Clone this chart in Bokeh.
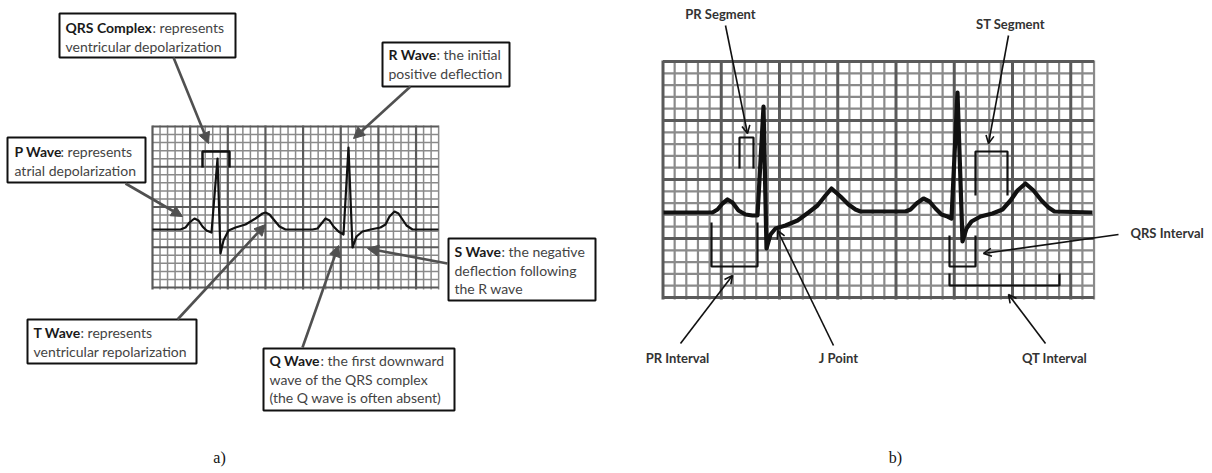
from bokeh.plotting import figure
from bokeh.models import Range1d, Arrow, NormalHead, OpenHead
from bokeh.core.properties import value
from bokeh.embed import file_html
from bokeh.resources import INLINE

# ---------------- data (page pixel coordinates) ----------------
# Panel a) ECG trace
wave_a_x = [152, 180, 185, 189, 194, 198, 202, 206, 211, 217, 220, 223, 228, 235, 245, 255, 262, 265,
            269, 274, 279, 285, 312, 317, 321, 325, 329, 333, 338, 343, 348, 352, 356, 362, 370, 380,
            385, 389, 394, 398, 402, 406, 412, 438]
wave_a_y = [229, 229, 227, 222, 218, 220, 226, 230, 232, 158, 253, 240, 230, 227, 224, 218, 213, 212,
            214, 220, 226, 229, 229, 228, 223, 218, 220, 226, 231, 234, 147, 247, 236, 231, 229, 227,
            224, 216, 211, 213, 219, 225, 229, 229]

# Panel b) ECG trace
wave_b_x = [663, 712, 717, 722, 727, 732, 738, 745, 752, 757, 763, 766, 770, 775, 785, 797, 808, 817,
            825, 831, 840, 848, 855, 860, 905, 910, 916, 923, 929, 935, 941, 947, 951, 957, 962, 966,
            971, 980, 992, 1002, 1010, 1017, 1025, 1033, 1041, 1048, 1054, 1092]
wave_b_y = [212, 212, 209, 203, 199, 202, 210, 214, 215, 215, 106, 248, 234, 228, 225, 220, 212, 205,
            195, 188, 196, 204, 209, 211, 211, 209, 203, 198, 201, 208, 214, 216, 218, 92, 241, 228,
            221, 216, 213, 209, 200, 190, 183, 190, 200, 207, 211, 212]

# Panel a) callouts
a_bold = ["QRS Complex", "P Wave", "R Wave", "T Wave", "S Wave", "Q Wave"]
a_first = [": represents", ": represents", ": the initial", ": represents", ": the negative",
           ": the first downward"]
a_more = [["ventricular depolarization"], ["atrial depolarization"], ["positive deflection"],
          ["ventricular repolarization"], ["deflection following", "the R wave"],
          ["wave of the QRS complex", "(the Q wave is often absent)"]]

# Panel b) labels
b_labels = ["PR Segment", "ST Segment", "QRS Interval", "PR Interval", "J Point", "QT Interval"]
panel_tags = ["a)", "b)"]

# ---------------- layout ----------------
box_left = [59, 7, 382, 27, 448, 263]
box_right = [235, 145, 509, 196, 595, 454]
box_top = [13, 137, 42, 319, 238, 348]
box_bottom = [57, 182, 86, 363, 300, 410]
text_x = [65, 14, 388, 33, 454, 269]
colon_x = [152, 60, 436, 80, 501, 320]
line1_y = [27, 151, 54, 332, 251, 360]
line_gap = 18.5

a_arrows = [(173, 57, 208, 143), (125, 183, 182, 216), (410, 86, 353, 138),
            (177, 319, 265, 224), (447, 263, 367, 248), (302, 347, 338, 245)]
b_arrows = [(725, 25, 747, 133), (1008, 35, 988, 143), (1118, 234, 983, 253),
            (680, 343, 732, 275), (833, 345, 777, 230), (1045, 343, 1008, 294)]
b_label_pos = [(720, 13, "center"), (1010, 23, "center"), (1130, 232, "left"),
               (677, 357, "center"), (838, 357, "center"), (1054, 357, "center")]

FONT = value("Lato")

p = figure(width=1212, height=473, x_range=Range1d(0, 1212), y_range=Range1d(473, 0),
           output_backend="svg", toolbar_location=None, min_border=0,
           x_axis_location=None, y_axis_location=None)
p.grid.visible = False
p.outline_line_color = None
p.background_fill_color = "white"
p.border_fill_color = "white"


def draw_grid(x0, nx, dx, y0, ny, dy, thin_w, thick_w, thin_c, thick_c):
    xs = [x0 + i * dx for i in range(nx + 1)]
    ys = [y0 + j * dy for j in range(ny + 1)]
    xa, xb, ya, yb = xs[0], xs[-1], ys[0], ys[-1]
    for thick in (False, True):
        vx = [x for i, x in enumerate(xs) if (i % 5 == 0) == thick]
        hy = [y for j, y in enumerate(ys) if (j % 5 == 0) == thick]
        w = thick_w if thick else thin_w
        c = thick_c if thick else thin_c
        p.segment(x0=vx, y0=[ya - 1] * len(vx), x1=vx, y1=[yb + 2] * len(vx), line_color=c, line_width=w)
        p.segment(x0=[xa] * len(hy), y0=hy, x1=[xb] * len(hy), y1=hy, line_color=c, line_width=w)


draw_grid(152, 38, 7.53, 126, 20, 8.05, 1.5, 2.2, "#8a8a8a", "#5a5a5a")
draw_grid(662.5, 37, 11.65, 61, 20, 11.8, 2.2, 3.0, "#8a8a8a", "#5a5a5a")

# ECG traces
p.line(wave_a_x, wave_a_y, line_color="#111111", line_width=2.2, line_join="round")
p.line(wave_b_x, wave_b_y, line_color="#111111", line_width=4.2, line_join="round")

# brackets
brackets_a = [([202, 202, 229, 229], [167, 151, 151, 167])]
brackets_b = [([739, 739, 753, 753], [168, 137, 137, 168]),
              ([975, 975, 1007, 1007], [195, 151, 151, 195]),
              ([711, 711, 757, 757], [222, 266, 266, 222]),
              ([949, 949, 975, 975], [235, 266, 266, 235]),
              ([949, 949, 1059, 1059], [273, 285, 285, 273])]
p.multi_line([b[0] for b in brackets_a], [b[1] for b in brackets_a], line_color="#111111", line_width=2.5)
p.multi_line([b[0] for b in brackets_b], [b[1] for b in brackets_b], line_color="#111111", line_width=2.2)

# arrows
for (xs, ys, xe, ye) in a_arrows:
    p.add_layout(Arrow(end=NormalHead(size=11, fill_color="#505050", line_color="#505050"),
                       x_start=xs, y_start=ys, x_end=xe, y_end=ye,
                       line_color="#505050", line_width=2.6))
for (xs, ys, xe, ye) in b_arrows:
    p.add_layout(Arrow(end=OpenHead(size=8, line_color="#111111", line_width=1.6),
                       x_start=xs, y_start=ys, x_end=xe, y_end=ye,
                       line_color="#111111", line_width=1.6))

# boxes
p.quad(left=box_left, right=box_right, top=box_top, bottom=box_bottom,
       fill_color="white", line_color="#111111", line_width=2)

# box texts
p.text(x=text_x, y=line1_y, text=a_bold, text_font=FONT, text_font_size="14px",
       text_font_style="bold", text_color="#1a1a1a", text_baseline="middle", text_align="left")
p.text(x=colon_x, y=line1_y, text=a_first, text_font=FONT, text_font_size="14px",
       text_color="#444444", text_baseline="middle", text_align="left")
mx, my, mt = [], [], []
for k, lines in enumerate(a_more):
    for n, t in enumerate(lines):
        mx.append(text_x[k])
        my.append(line1_y[k] + line_gap * (n + 1))
        mt.append(t)
p.text(x=mx, y=my, text=mt, text_font=FONT, text_font_size="14px",
       text_color="#444444", text_baseline="middle", text_align="left")

# panel b labels
for lab, (x, y, al) in zip(b_labels, b_label_pos):
    p.text(x=[x], y=[y], text=[lab], text_font=FONT, text_font_size="13px", text_font_style="bold",
           text_color="#333333", text_baseline="middle", text_align=al)

# panel tags
p.text(x=[219, 895], y=[457, 457], text=panel_tags, text_font=value("Liberation Serif"),
       text_font_size="16px", text_color="#111111", text_baseline="middle", text_align="center")

open("out.html", "w").write(file_html(p, INLINE))
